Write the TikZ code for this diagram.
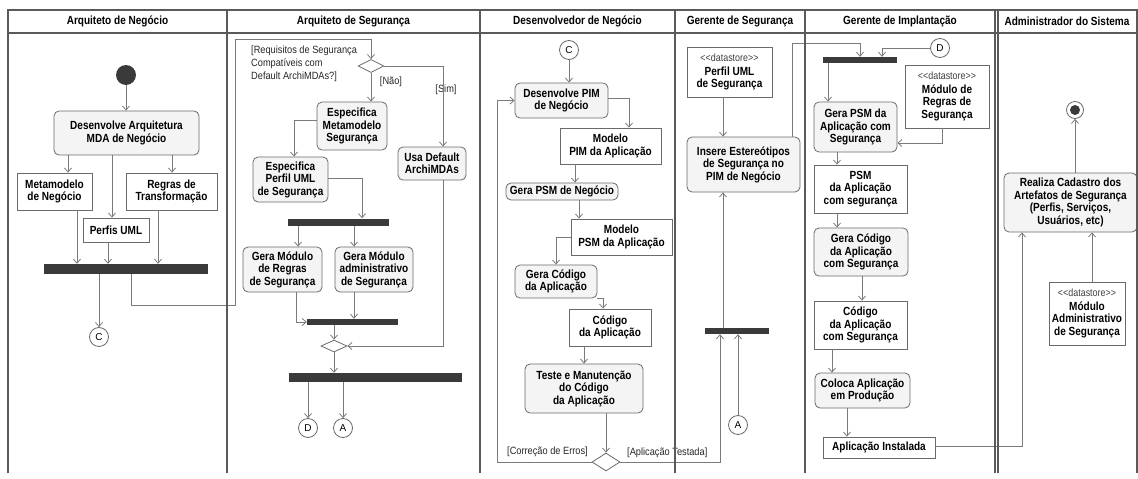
\documentclass[tikz,border=0pt]{standalone}
\usepackage{fontspec}
\setmainfont{Liberation Sans}
\newfontfamily\condf{Liberation Sans}[FakeStretch=0.85]
\newfontfamily\guardf{Liberation Sans}[FakeStretch=0.88]
\usetikzlibrary{arrows.meta,shapes.geometric}
\definecolor{lnc}{HTML}{7A7A7A}
\definecolor{bdc}{HTML}{6A6A6A}
\definecolor{barc}{HTML}{3A3A3A}
\definecolor{actfill}{HTML}{F4F4F4}
\definecolor{lanec}{HTML}{5A5A5A}
\tikzset{
  bfont/.style={font=\condf\bfseries\fontsize{11.8}{12.5}\selectfont},
  sz/.style 2 args={minimum width=#1pt, minimum height=#2pt},
  act/.style={draw=bdc, fill=actfill, rounded corners=5pt, align=center, inner sep=0pt, line width=0.8pt, bfont},
  obj/.style={draw=bdc, fill=white, align=center, inner sep=0pt, line width=0.8pt, bfont},
  store/.style={draw=bdc, fill=white, align=center, inner sep=0pt, line width=0.8pt, bfont},
  barnode/.style={fill=barc, inner sep=0pt},
  conn/.style={circle, draw=bdc, fill=white, minimum size=19pt, inner sep=0pt, line width=0.8pt, font=\fontsize{10}{10}\selectfont},
  dec/.style={diamond, draw=bdc, fill=white, inner sep=0pt, aspect=2, line width=0.8pt},
  arr/.style={draw=lnc, line width=0.8pt, -{Straight Barb[length=4pt,width=7pt]}},
  guard/.style={font=\guardf\fontsize{10.5}{13}\selectfont, align=left, inner sep=0pt, text=black!85},
  hdr/.style={font=\condf\bfseries\fontsize{11.8}{12}\selectfont, inner sep=0pt},
  lanel/.style={draw=lanec, line width=1.6pt}
}
\newcommand{\dstore}{{\mdseries\fontsize{10.5}{12}\selectfont\color{black!75}<\kern0pt<datastore>\kern0pt>}}
\begin{document}
\begin{tikzpicture}[x=1pt,y=-1pt]
\useasboundingbox (0,0) rectangle (1138,479);

% headers
\node[hdr] (h1) at (117.5,21.5) {Arquiteto de Negócio};
\node[hdr] (h2) at (353.5,21.5) {Arquiteto de Segurança};
\node[hdr] (h3) at (577.5,21.5) {Desenvolvedor de Negócio};
\node[hdr] (h4) at (740,21.5) {Gerente de Segurança};
\node[hdr] (h5) at (900,21.5) {Gerente de Implantação};
\node[hdr] (h6) at (1067,21.5) {Administrador do Sistema};

% ---------- Lane 1
\node[circle, fill=barc, minimum size=20pt, inner sep=0pt] (st) at (126,75) {};
\node[act, sz={145}{44}] (a1) at (126.5,133) {Desenvolve Arquitetura\\MDA de Negócio};
\node[obj, sz={75}{37}] (o1) at (54.5,191.5) {Metamodelo\\de Negócio};
\node[obj, sz={91}{37}] (o2) at (171.5,191.5) {Regras de\\Transformação};
\node[obj, sz={66}{24}] (o3) at (116,230) {Perfis UML};
\node[barnode, sz={164}{10}] (b1) at (126,269) {};
\node[conn] (c1) at (99,337) {C};

\draw[arr] (st) -- (a1.north -| st);
\draw[arr] (a1.south -| 68,0) -- (o1.north -| 68,0);
\draw[arr] (a1.south -| 112,0) -- (o3.north -| 112,0);
\draw[arr] (a1.south -| 172,0) -- (o2.north -| 172,0);
\draw[arr] (o1.south -| 77,0) -- (b1.north -| 77,0);
\draw[arr] (o3.south -| 108,0) -- (b1.north -| 108,0);
\draw[arr] (o2.south -| 158,0) -- (b1.north -| 158,0);
\draw[arr] (b1.south -| c1) -- (c1.north);

% ---------- Lane 2
\node[dec, minimum width=26pt, minimum height=13pt] (dec1) at (371,66) {};
\node[guard, anchor=north west] (g1) at (251,46) {[Requisitos de Segurança\\Compatíveis com\\Default ArchiMDAs?]};
\node[guard] (gn) at (391,82) {[Não]};
\node[guard] (gs) at (446,90) {[Sim]};
\node[act, sz={70}{48}] (a2) at (352,126) {Especifica\\Metamodelo\\Segurança};
\node[act, sz={68}{33}] (a3) at (432,163.5) {Usa Default\\ArchiMDAs};
\node[act, sz={75}{45}] (a4) at (290.5,179.5) {Especifica\\Perfil UML\\de Segurança};
\node[barnode, sz={101}{7}] (b2) at (338.5,222) {};
\node[act, sz={79}{45}] (a5) at (282.5,269.5) {Gera Módulo\\de Regras\\de Segurança};
\node[act, sz={78}{45}] (a6) at (374,269.5) {Gera Módulo\\administrativo\\de Segurança};
\node[barnode, sz={91}{6}] (b3) at (352.5,322) {};
\node[dec, minimum width=26pt, minimum height=12pt] (dec2) at (334,346) {};
\node[barnode, sz={173}{9}] (b4) at (375.5,377.5) {};
\node[conn] (d1) at (308,428) {D};
\node[conn] (x1) at (343,428) {A};

\draw[arr] (b1.south -| 131,0) -- (131,305) -- (235,305) -- (235,39) -| (dec1.north);
\draw[arr] (dec1.south) -- (dec1.south |- a2.north);
\draw[arr] (dec1.east) -| (a3.north -| 443,0);
\draw[arr] (a2.west |- 0,120) -| (a4.north -| 294,0);
\draw[arr] (a4.east |- 0,178) -| (b2.north -| 362,0);
\draw[arr] (b2.south -| 298,0) -- (a5.north -| 298,0);
\draw[arr] (b2.south -| 354,0) -- (a6.north -| 354,0);
\draw[arr] (a5.south -| 296,0) |- (b3.west);
\draw[arr] (a6.south -| 354,0) -- (b3.north -| 354,0);
\draw[arr] (b3.south -| dec2) -- (dec2.north);
\draw[arr] (a3.south -| 443,0) |- (dec2.east);
\draw[arr] (dec2.south) -- (b4.north -| dec2);
\draw[arr] (b4.south -| d1) -- (d1.north);
\draw[arr] (b4.south -| x1) -- (x1.north);

% ---------- Lane 3
\node[conn] (c2) at (569,50) {C};
\node[act, sz={93}{35}] (a7) at (561.5,100.5) {Desenvolve PIM\\de Negócio};
\node[obj, sz={101}{36}] (o4) at (610.5,146) {Modelo\\PIM da Aplicação};
\node[act, sz={112}{17}] (a8) at (562,191.5) {Gera PSM de Negócio};
\node[obj, sz={101}{36}] (o5) at (621.5,237) {Modelo\\PSM da Aplicação};
\node[act, sz={82}{33}] (a9) at (556,281.5) {Gera Código\\da Aplicação};
\node[obj, sz={82}{37}] (o6) at (610,327.5) {Código\\da Aplicação};
\node[act, sz={118}{49}] (a10) at (584,388.5) {Teste e Manutenção\\do Código\\da Aplicação};
\node[dec, minimum width=28pt, minimum height=18pt] (dec3) at (606,462) {};
\node[guard, anchor=west] (gc) at (507,452) {[Correção de Erros]};
\node[guard, anchor=west] (gt) at (627,453) {[Aplicação Testada]};

\draw[arr] (c2) -- (a7.north -| c2);
\draw[arr] (a7.east |- 0,98) -| (o4.north -| 629,0);
\draw[arr] (o4.south -| 575,0) -- (a8.north -| 575,0);
\draw[arr] (a8.south -| 579,0) -- (o5.north -| 579,0);
\draw[arr] (o5.west) -| (a9.north);
\draw[arr] (a9.south east) -| (o6.north -| 603,0);
\draw[arr] (o6.south -| 584,0) -- (a10.north);
\draw[arr] (a10.south -| dec3) -- (dec3.north);
\draw[arr] (dec3.west) -| (a7.west -| 497,0) -- (a7.west);

% ---------- Lane 4
\node[store, sz={85}{50}] (ds1) at (729.5,72) {\dstore\\[1pt]Perfil UML\\de Segurança};
\node[act, sz={113}{55}] (a11) at (743.5,164.5) {Insere Estereótipos\\de Segurança no\\PIM de Negócio};
\node[barnode, sz={64}{6}] (b5) at (737,331) {};
\node[conn] (x2) at (738,425) {A};

\draw[arr] (ds1.south -| 723,0) -- (a11.north -| 723,0);
\draw[arr] (b5.north -| 723,0) -- (a11.south -| 723,0);
\draw[arr] (x2.north) -- (b5.south -| x2);
\draw[arr] (dec3.east) -| (b5.south -| 720,0);

% ---------- Lane 5
\node[conn] (d2) at (940,48) {D};
\node[barnode, sz={74}{6}] (b6) at (860,60) {};
\node[act, sz={83}{50}] (a12) at (855.5,127) {Gera PSM da\\Aplicação com\\Segurança};
\node[store, sz={84}{63}] (ds2) at (947,96.5) {\dstore\\[1pt]Módulo de\\Regras de\\Segurança};
\node[obj, sz={93}{48}] (o7) at (860.5,189) {PSM\\da Aplicação\\com segurança};
\node[act, sz={94}{48}] (a13) at (861,252) {Gera Código\\da Aplicação\\com Segurança};
\node[obj, sz={93}{48}] (o8) at (860.5,325) {Código\\da Aplicação\\com Segurança};
\node[act, sz={95}{35}] (a14) at (862.5,390.5) {Coloca Aplicação\\em Produção};
\node[obj, sz={112}{21}] (o9) at (879,447.5) {Aplicação Instalada};

\draw[arr] (a11.north -| 792,0) -- (792,43) -| (b6.north -| 860,0);
\draw[arr] (d2.west) -| (b6.north -| 882,0);
\draw[arr] (b6.south -| 828,0) -- (a12.north -| 828,0);
\draw[arr] (ds2.south -| 942,0) |- (a12.east |- 0,143);
\draw[arr] (a12.south -| 837,0) -- (o7.north -| 837,0);
\draw[arr] (o7.south -| 837,0) -- (a13.north -| 837,0);
\draw[arr] (a13.south -| 862,0) -- (o8.north -| 862,0);
\draw[arr] (o8.south -| 832,0) -- (a14.north -| 832,0);
\draw[arr] (a14.south -| 847,0) -- (o9.north -| 847,0);

% ---------- Lane 6
\node[circle, draw=bdc, fill=white, line width=0.8pt, minimum size=17pt, inner sep=0pt] (fin) at (1075,110) {};
\node[circle, fill=barc, minimum size=10pt, inner sep=0pt] (finin) at (fin) {};
\node[act, sz={133}{59}, font=\condf\bfseries\fontsize{11.8}{12.5}\selectfont] (a15) at (1070.5,202.5) {Realiza Cadastro dos\\Artefatos de Segurança\\(Perfis, Serviços,\\Usuários, etc)};
\node[store, sz={76}{63}] (ds3) at (1087,313.5) {\dstore\\[1pt]Módulo\\Administrativo\\de Segurança};

\draw[arr] (a15.north -| fin) -- (fin.south);
\draw[arr] (ds3.north -| 1092,0) -- (a15.south -| 1092,0);
\draw[arr] (o9.east |- 0,446) -| (a15.south -| 1022,0);

% ---------- swimlane frame
\draw[lanel] (8,473) -- (8,10) -- (1137,10) -- (1137,473);
\draw[lanel, line width=1.2pt] (8,33) -- (1137,33);
\foreach \xx/\nm in {227/l1,480/l2,675/l3,805/l4,995/l5,998/l6}{
  \draw[lanel] (\xx,10) -- (\xx,473);
}
\end{tikzpicture}
\end{document}
